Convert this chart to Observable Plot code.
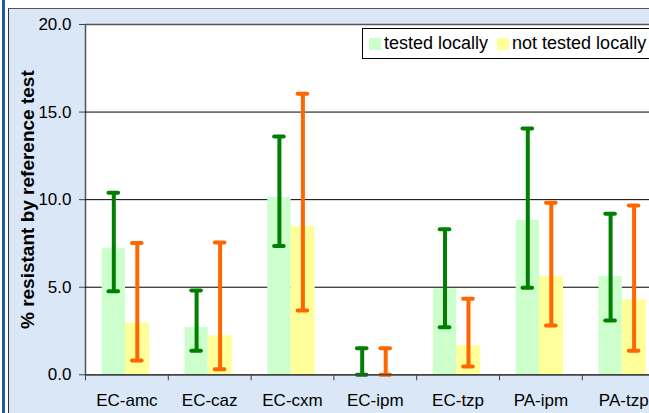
<!DOCTYPE html>
<html><head><meta charset="utf-8">
<script src="https://cdn.jsdelivr.net/npm/d3@7"></script>
<script src="https://cdn.jsdelivr.net/npm/@observablehq/plot@0.6"></script>
<style>
html,body{margin:0;padding:0;background:#fff;overflow:hidden;}
#wrap{position:relative;width:649px;height:413px;overflow:hidden;font-family:"Liberation Sans",Arial,sans-serif;}
#bg{position:absolute;left:8px;top:8px;width:700px;height:420px;background:#d9e7f7;border-left:1px solid #333;border-top:1px solid #555;}
#blue{position:absolute;left:2px;top:0;width:3px;height:413px;background:#1f5aa6;}
#chart{position:absolute;left:0;top:0;}
#legend{position:absolute;left:362px;top:28px;width:330px;height:29px;background:#fff;border:1px solid #000;font-size:18px;display:flex;align-items:center;white-space:nowrap;color:#000;}
.sw{display:inline-block;width:12px;height:12px;margin-right:3px;}
.item{display:inline-flex;align-items:center;margin-right:9px;}
.item:first-child{margin-left:6px;}
</style>
</head><body>
<div id="wrap"><div id="blue"></div><div id="bg"></div><div id="chart"></div><div id="legend"></div></div>
<script>
const categories = ["EC-amc","EC-caz","EC-cxm","EC-ipm","EC-tzp","PA-ipm","PA-tzp"];
const seriesNames = ["tested locally","not tested locally"];
const seriesColors = ["#ccffcc","#ffff99"];
const errorColors = ["#008000","#ff6600"];
const testedLocally    = [7.23, 2.70, 10.12, 0, 4.91, 8.81, 5.61];
const testedLow        = [4.77, 1.37, 7.36, 0, 2.72, 4.97, 3.10];
const testedHigh       = [10.39, 4.81, 13.6, 1.52, 8.31, 14.06, 9.19];
const notTestedLocally = [2.95, 2.23, 8.46, 0, 1.66, 5.61, 4.28];
const notTestedLow     = [0.82, 0.32, 3.67, 0, 0.47, 2.81, 1.37];
const notTestedHigh    = [7.53, 7.55, 16.05, 1.52, 4.34, 9.83, 9.67];
const yTicks = [0,5,10,15,20];
const yTickLabels = ["0.0","5.0","10.0","15.0","20.0"];
const yTitle = "% resistant by reference test";

const rows = categories.map((c,i)=>({category:c,
  t:testedLocally[i], tLow:testedLow[i], tHigh:testedHigh[i],
  n:notTestedLocally[i], nLow:notTestedLow[i], nHigh:notTestedHigh[i]}));

const capInset = 36.6;
const errMarks = (lo, hi, dx, color) => [
  Plot.ruleX(rows, {x:"category", y1:lo, y2:hi, dx, stroke:color, strokeWidth:4}),
  Plot.tickY(rows, {x:"category", y:lo, dx, stroke:color, strokeWidth:4, strokeLinecap:"round", insetLeft:capInset, insetRight:capInset}),
  Plot.tickY(rows, {x:"category", y:hi, dx, stroke:color, strokeWidth:4, strokeLinecap:"round", insetLeft:capInset, insetRight:capInset})
];

const chart = Plot.plot({
  width: 690, height: 413,
  marginLeft: 85, marginRight: 25.4, marginTop: 24, marginBottom: 38.7,
  style: {background:"transparent", maxWidth:"none", fontFamily:"'Liberation Sans', Arial, sans-serif", color:"#000"},
  x: {domain: categories, padding: 0, round: false, label: null},
  y: {domain: [0,20], label: null},
  marks: [
    Plot.frame({fill:"white", stroke:"#555", strokeWidth:1.5}),
    Plot.ruleY(yTicks.slice(1,-1), {stroke:"#000", strokeWidth:1}),
    Plot.barY(rows, {x:"category", y:"t", fill:seriesColors[0], insetLeft:16.7, insetRight:42.8}),
    Plot.barY(rows, {x:"category", y:"n", fill:seriesColors[1], insetLeft:40, insetRight:18.8}),
    ...errMarks("tLow","tHigh",-13.1,errorColors[0]),
    ...errMarks("nLow","nHigh",10.4,errorColors[1]),
    Plot.ruleY([0], {stroke:"#444", strokeWidth:1.5}),
    Plot.axisY(yTicks, {tickFormat:d=>yTickLabels[yTicks.indexOf(d)], tickSize:6, tickPadding:8, fontSize:17, label:null, stroke:"#444"}),
    Plot.axisX({tickSize:0, tickPadding:19, fontSize:17, label:null}),
    Plot.axisX({tickSize:6, tickFormat:()=>"", dx:-41.4, label:null, stroke:"#444"}),
    Plot.text([yTitle], {text:d=>d, frameAnchor:"left", textAnchor:"middle", lineAnchor:"middle", rotate:-90, dx:-58, fontSize:19, fontWeight:"bold", fill:"#000"})
  ]
});
document.getElementById("chart").appendChild(chart);

const leg = document.getElementById("legend");
seriesNames.forEach((name,i)=>{
  const it = document.createElement("span"); it.className="item";
  const sw = document.createElement("span"); sw.className="sw"; sw.style.background=seriesColors[i];
  it.appendChild(sw); it.appendChild(document.createTextNode(name));
  leg.appendChild(it);
});
</script>
</body></html>
